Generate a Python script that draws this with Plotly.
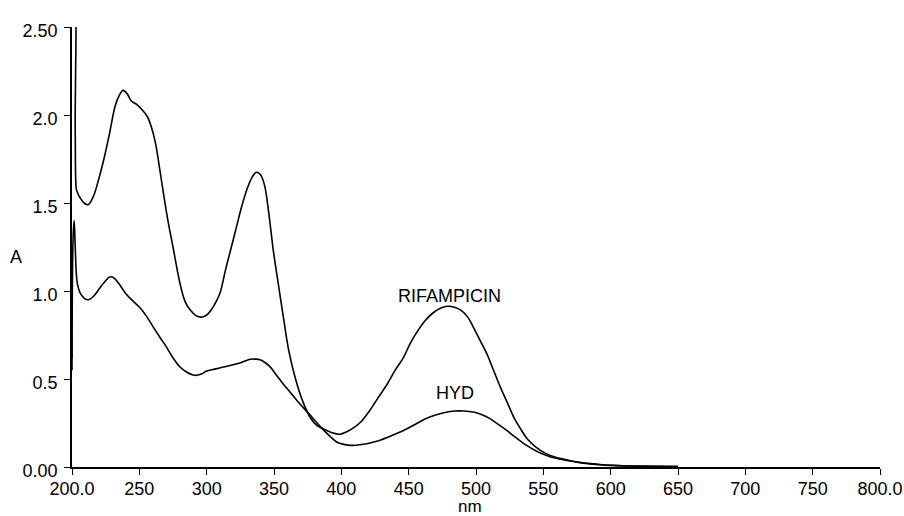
import plotly.graph_objects as go

# Wavelength (nm) and absorbance readings for each spectrum
rif_nm = [200.0, 200.8, 201.6, 202.4, 203.2, 204, 206, 209, 212, 216, 220, 224, 228, 232, 235, 238,
          241, 244, 248, 252, 256, 259, 262, 265, 268, 271, 275, 280, 284, 288, 292, 295, 298,
          301, 304, 307, 310, 314, 318, 322, 326, 330, 334, 337, 340, 343, 346, 349.5, 353,
          357, 361, 366, 371, 377, 382, 387, 393, 399, 404, 409, 415, 421, 427, 434, 440, 446,
          451, 456, 462, 468, 474, 479, 484, 489, 494, 498, 503, 508, 513, 518, 523, 528, 533,
          538, 545, 552, 558, 563, 570, 578, 585, 592, 600, 610, 625, 640, 650]
rif_abs = [0.62, 2.9, 2.9, 1.9, 1.58, 1.56, 1.53, 1.50, 1.49, 1.54, 1.64, 1.76, 1.90, 2.05, 2.11, 2.14,
           2.12, 2.08, 2.06, 2.03, 1.99, 1.93, 1.84, 1.70, 1.55, 1.41, 1.25, 1.05, 0.94, 0.89, 0.86, 0.852, 0.855,
           0.87, 0.90, 0.94, 0.99, 1.12, 1.24, 1.36, 1.48, 1.58, 1.65, 1.675, 1.66, 1.60, 1.45, 1.23, 1.05,
           0.85, 0.66, 0.50, 0.38, 0.28, 0.235, 0.215, 0.195, 0.186, 0.200, 0.222, 0.26, 0.32, 0.39, 0.47, 0.55, 0.62,
           0.70, 0.765, 0.83, 0.875, 0.903, 0.913, 0.908, 0.89, 0.85, 0.795, 0.72, 0.644, 0.55, 0.455, 0.37, 0.284, 0.218,
           0.161, 0.11, 0.076, 0.058, 0.048, 0.036, 0.025, 0.019, 0.014, 0.010, 0.007, 0.005, 0.004, 0.003]

hyd_nm = [200.0, 200.8, 201.6, 202.4, 203.2, 204, 206, 209, 212, 216, 220, 224, 228, 231, 235,
          240, 245, 250.5, 255, 260.4, 265, 270.3, 275, 280.2, 285, 291.3, 296, 300, 306, 312.3,
          318, 324.7, 332.2, 336, 339.6, 343, 347, 352, 357, 362, 367, 372, 377, 382, 387, 392,
          396.5, 401, 406.4, 411, 416.3, 422, 428.7, 435, 441, 448, 456, 463, 470, 477, 484.4,
          491, 498, 504, 510.4, 516, 522.8, 530, 537.6, 545, 552.5, 558, 563, 570, 578, 585, 592,
          600, 610, 625, 640, 650]
hyd_abs = [0.55, 1.30, 1.40, 1.25, 1.10, 1.04, 0.99, 0.96, 0.95, 0.97, 1.01, 1.05, 1.08, 1.075, 1.04,
           0.985, 0.945, 0.905, 0.86, 0.795, 0.74, 0.68, 0.62, 0.568, 0.54, 0.521, 0.528, 0.545, 0.556, 0.568,
           0.578, 0.591, 0.612, 0.613, 0.61, 0.595, 0.57, 0.52, 0.47, 0.425, 0.378, 0.335, 0.294, 0.25, 0.208, 0.172,
           0.142, 0.13, 0.123, 0.124, 0.129, 0.138, 0.152, 0.17, 0.19, 0.215, 0.247, 0.275, 0.295, 0.31, 0.318,
           0.318, 0.312, 0.298, 0.275, 0.245, 0.208, 0.165, 0.123, 0.09, 0.066, 0.052, 0.044, 0.034, 0.024, 0.018, 0.013,
           0.009, 0.006, 0.004, 0.003, 0.003]

x_ticks = [200, 250, 300, 350, 400, 450, 500, 550, 600, 650, 700, 750, 800]
x_tick_labels = ["200.0", "250", "300", "350", "400", "450", "500", "550", "600", "650", "700", "750", "800.0"]
y_ticks = [0, 0.5, 1.0, 1.5, 2.0, 2.5]
y_tick_labels = ["0.00", "0.5", "1.0", "1.5", "2.0", "2.50"]

FONT = "Liberation Sans, Arial, Helvetica, sans-serif"
W, H = 904, 516
ML, MR, MT, MB = 72, 24, 27, 49
PW, PH = W - ML - MR, H - MT - MB

fig = go.Figure()
fig.add_trace(go.Scatter(x=rif_nm, y=rif_abs, mode="lines", name="RIFAMPICIN",
                         line=dict(color="black", width=1.6), line_shape="spline"))
fig.add_trace(go.Scatter(x=hyd_nm, y=hyd_abs, mode="lines", name="HYD",
                         line=dict(color="black", width=1.6), line_shape="spline"))

fig.add_annotation(x=480, y=0.97, text="RIFAMPICIN", showarrow=False,
                   font=dict(family=FONT, size=18, color="black"), xref="x", yref="y")
fig.add_annotation(x=484.5, y=0.42, text="HYD", showarrow=False,
                   font=dict(family=FONT, size=18, color="black"), xref="x", yref="y")
# axis titles placed in paper coordinates
fig.add_annotation(x=(470 - ML) / PW, y=-(506 - (H - MB)) / PH, text="nm", showarrow=False,
                   xanchor="center", yanchor="middle",
                   font=dict(family=FONT, size=17, color="black"), xref="paper", yref="paper")
fig.add_annotation(x=(16 - ML) / PW, y=((H - MB) - 257) / PH, text="A", showarrow=False,
                   xanchor="center", yanchor="middle",
                   font=dict(family=FONT, size=18, color="black"), xref="paper", yref="paper")

fig.update_layout(
    width=W, height=H,
    margin=dict(l=ML, r=MR, t=MT, b=MB, pad=0, autoexpand=False),
    paper_bgcolor="white", plot_bgcolor="white",
    showlegend=False,
    font=dict(family=FONT, size=18, color="black"),
    xaxis=dict(range=[200, 800], tickvals=x_ticks, ticktext=x_tick_labels, automargin=False,
               showgrid=False, zeroline=False, showline=True, linecolor="black", linewidth=1.6,
               ticks="outside", ticklen=6, tickwidth=1.4, tickcolor="black", ticklabelstandoff=-1),
    yaxis=dict(range=[0, 2.5], tickvals=y_ticks, ticktext=y_tick_labels, automargin=False,
               showgrid=False, zeroline=False, showline=True, linecolor="black", linewidth=1.6,
               ticks="outside", ticklen=6, tickwidth=1.4, tickcolor="black",
               ticklabelshift=4, ticklabelstandoff=3),
)

fig.write_html("out.html", config={"displayModeBar": False},
               post_script="document.body.style.margin='0';document.body.style.padding='0';document.documentElement.style.overflow='hidden';")
